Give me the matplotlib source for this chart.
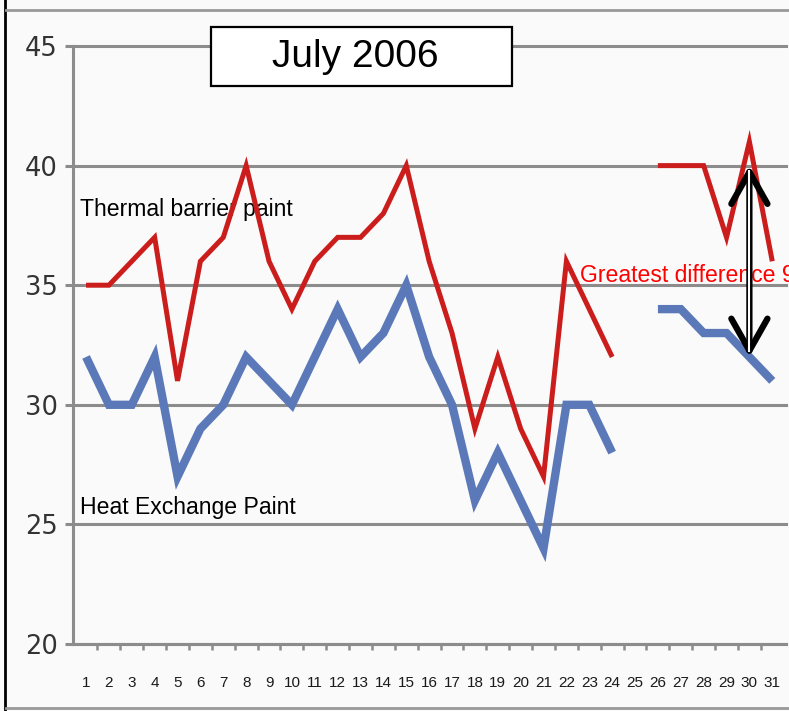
import numpy as np
import matplotlib.pyplot as plt
from matplotlib.patches import Rectangle
from matplotlib.lines import Line2D

# daily readings, July 2006 (no reading on the 25th)
days = list(range(1, 32))
thermal_barrier = [35, 35, 36, 37, 31, 36, 37, 40, 36, 34, 36, 37, 37, 38, 40, 36,
                   33, 29, 32, 29, 27, 36, 34, 32, np.nan, 40, 40, 40, 37, 41, 36]
heat_exchange = [32, 30, 30, 32, 27, 29, 30, 32, 31, 30, 32, 34, 32, 33, 35, 32,
                 30, 26, 28, 26, 24, 30, 30, 28, np.nan, 34, 34, 33, 33, 32, 31]
y_ticks = [20, 25, 30, 35, 40, 45]
title_text = 'July 2006'
label_thermal = 'Thermal barrier paint'
label_heat = 'Heat Exchange Paint'
diff_text = 'Greatest difference 9'
diff_day = 30
diff_lo, diff_hi = 32, 40

plt.rcParams['font.family'] = ['Liberation Sans', 'DejaVu Sans']

W, H = 789, 711
fig = plt.figure(figsize=(W / 100, H / 100), dpi=100, facecolor='#fafafa')
ax = fig.add_axes([73 / W, (H - 644) / H, 713 / W, 598 / H])
ax.set_facecolor('#fafafa')

grey = '#8c8c8c'
ax.plot(days, heat_exchange, color='#5b79b9', lw=6, solid_joinstyle='miter',
        solid_capstyle='butt', zorder=3)
ax.plot(days, thermal_barrier, color='#cc1d1d', lw=3.6, solid_joinstyle='miter',
        solid_capstyle='butt', zorder=4)

ax.set_xlim(0.43, 31.6)
ax.set_ylim(20, 45)

ax.set_yticks(y_ticks)
ax.set_yticklabels([str(v) for v in y_ticks], fontsize=18.5, color='#333333',
                   family='DejaVu Sans')
ax.tick_params(axis='y', direction='out', length=6, width=2.2, color=grey, pad=5)
ax.yaxis.grid(True, color=grey, lw=2.2)
for gl in ax.get_ygridlines():
    gl.set_clip_on(False)

ax.set_xticks(days)
ax.set_xticklabels([str(d) for d in days], fontsize=11, color='#1a1a1a')
ax.tick_params(axis='x', length=0, pad=23)
ax.set_xticks([d + 0.5 for d in days[:-1]], minor=True)
ax.tick_params(axis='x', which='minor', direction='out', length=4, width=1.8, color=grey)

for side in ('top', 'right'):
    ax.spines[side].set_visible(False)
for side in ('left', 'bottom'):
    ax.spines[side].set_color(grey)
    ax.spines[side].set_linewidth(2.2)
ax.set_axisbelow(True)

# series labels
ax.text(0.74, 38.16, label_thermal, fontsize=16.6, color='black', va='center', zorder=2)
ax.text(0.74, 25.71, label_heat, fontsize=16.6, color='black', va='center', zorder=2)
ax.text(22.6, 35.42, diff_text, fontsize=16.6, color='#ff0000', va='center', zorder=5,
        clip_on=False)

# double-headed arrow marking the largest gap
ax.annotate('', xy=(diff_day, diff_hi), xytext=(diff_day, diff_lo),
            arrowprops=dict(arrowstyle='<->, head_length=1.15, head_width=0.65',
                            color='black', lw=4.5, shrinkA=0, shrinkB=0,
                            mutation_scale=20, capstyle='round'),
            zorder=6)
ax.plot([diff_day, diff_day], [diff_lo + 0.2, diff_hi - 0.2], color='white',
        lw=1.5, solid_capstyle='butt', zorder=7)

# title box
fig.patches.append(Rectangle((211 / W, 1 - 86 / H), 301 / W, 59 / H,
                             transform=fig.transFigure, facecolor='white',
                             edgecolor='black', lw=1.6, zorder=10))
fig.text(355 / W, 1 - 57 / H, title_text, fontsize=28, ha='center', va='center',
         zorder=11)

# outer frame
fig.lines.append(Line2D([4.5 / W, 4.5 / W], [0, 1], transform=fig.transFigure,
                        color='black', lw=2))
fig.lines.append(Line2D([6 / W, 1], [1 - 10 / H, 1 - 10 / H], transform=fig.transFigure,
                        color='#999999', lw=2))
fig.lines.append(Line2D([6 / W, 1], [3 / H, 3 / H], transform=fig.transFigure,
                        color='#999999', lw=2))

fig.savefig('out.png', dpi=100, facecolor=fig.get_facecolor())
